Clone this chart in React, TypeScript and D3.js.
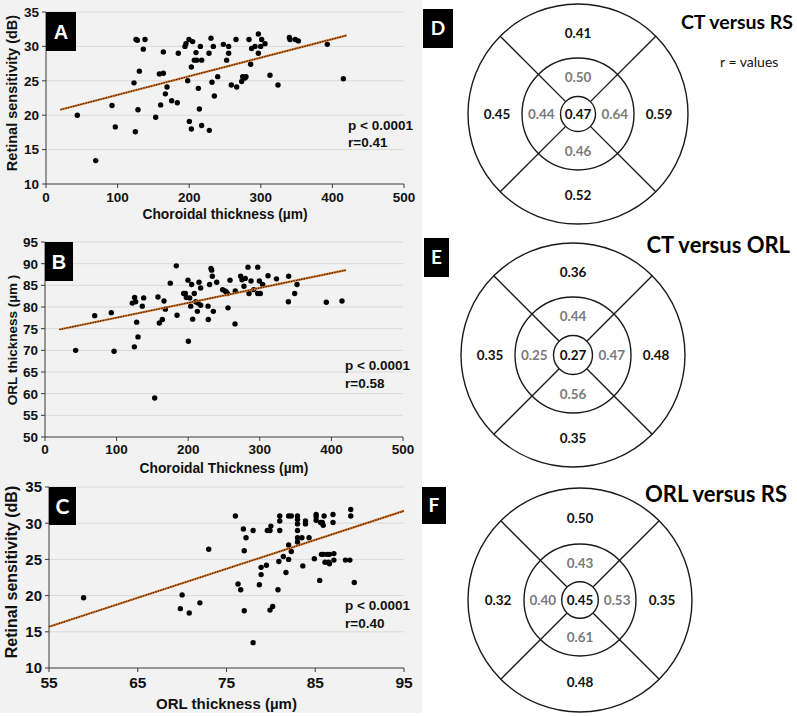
import React from "react";
import * as d3 from "d3";

// ---------- Panel A: choroidal thickness vs retinal sensitivity ----------
const ctA = [43.8,69.4,92.2,96.8,122.9,124.8,125.7,127.6,128.5,130.4,135.9,138.3,153.2,158.3,160.1,163.9,163.9,166.7,169.0,175.5,183.4,184.8,194.1,195.5,197.9,199.7,200.2,203.0,203.0,204.8,207.2,209.5,210.4,212.8,214.2,215.6,217.4,217.4,227.7,228.1,230.4,231.8,233.7,235.1,239.8,247.7,252.3,255.1,255.1,258.8,265.4,266.3,273.3,274.7,277.9,279.3,283.5,285.8,287.2,291.9,296.6,296.6,299.8,301.2,305.9,312.8,324.0,339.9,340.8,348.2,352.4,392.9,415.3];
const rsA = [20.0,13.4,21.4,18.3,24.7,17.6,31.0,30.9,20.8,26.4,29.6,31.0,19.7,26.0,21.5,26.1,29.2,23.1,24.1,22.1,21.8,29.0,30.0,30.4,25.0,31.0,19.1,27.0,18.0,30.7,28.0,29.1,28.0,23.9,20.9,30.0,28.0,18.5,29.0,17.8,31.2,24.8,30.0,22.8,25.6,30.3,28.0,29.0,30.0,24.4,31.0,24.1,24.9,25.6,25.4,25.6,31.0,27.4,29.7,30.0,31.8,29.0,30.0,31.0,30.4,25.8,24.4,31.3,31.0,31.0,30.8,30.3,25.3];
const trendAx = [20, 420];
const trendAy = [20.8, 31.6];

// ---------- Panel B: choroidal thickness vs ORL thickness ----------
const ctB = [42.8,69.4,92.6,96.4,122.0,125.2,124.8,126.6,128.0,129.9,135.9,137.8,153.2,157.8,159.7,163.9,166.2,168.1,175.0,183.4,184.4,193.7,196.0,197.4,199.7,200.2,202.1,203.5,204.8,206.2,208.5,210.4,212.8,213.7,215.1,217.4,217.4,227.7,228.1,229.9,231.8,232.8,233.7,235.1,239.8,248.1,251.4,253.3,254.7,255.6,258.4,265.4,265.8,273.3,275.1,277.9,279.7,283.5,284.9,287.7,291.5,297.1,297.1,299.4,300.8,304.0,311.5,323.3,340.3,339.9,348.7,352.0,392.9,414.8];
const orlB = [70.0,78.0,78.7,69.8,80.9,82.2,70.8,81.2,76.5,73.1,80.2,82.1,59.0,82.3,76.3,77.1,81.4,79.5,85.5,89.5,78.1,83.1,83.1,82.2,86.2,72.1,82.1,80.2,85.2,77.2,83.1,81.2,79.0,80.9,85.7,84.4,80.4,80.2,77.1,85.2,88.9,88.5,87.1,79.0,85.7,84.0,83.7,83.5,83.1,79.8,86.2,76.1,83.7,87.1,86.3,84.8,86.6,89.2,83.1,86.0,84.0,89.2,83.1,86.0,83.1,85.2,87.2,86.5,87.1,81.2,83.1,85.2,81.1,81.4];
const trendBx = [20, 420];
const trendBy = [74.8, 88.5];

// ---------- Panel C: ORL thickness vs retinal sensitivity ----------
const orlC = [58.9,69.8,70.0,70.8,72.0,73.0,76.0,76.3,76.6,76.9,77.0,77.0,77.2,78.0,78.0,78.7,78.9,78.9,79.5,79.6,80.0,79.9,79.9,80.2,80.8,80.9,81.0,81.0,81.0,81.7,81.4,82.0,82.0,82.0,82.3,82.3,83.0,83.0,83.0,83.0,83.0,83.0,83.5,83.6,83.9,83.9,84.3,84.9,85.1,85.1,85.1,85.5,85.6,85.7,85.8,85.9,86.0,85.9,86.1,86.3,86.5,86.6,86.6,87.0,87.0,87.1,87.1,88.4,88.9,89.0,89.0,89.4];
const rsC = [19.7,18.2,20.1,17.6,19.0,26.4,31.0,21.6,20.8,29.2,26.2,17.9,28.0,29.0,13.5,21.5,23.9,22.9,24.2,29.0,29.6,29.0,18.0,18.5,20.8,24.7,29.0,31.0,30.3,23.2,25.4,27.0,31.0,25.0,26.1,31.0,31.0,30.5,29.9,29.0,28.0,27.4,28.0,24.1,30.3,29.9,28.0,25.1,31.2,30.9,30.4,22.1,30.1,25.7,30.1,29.7,31.0,25.7,24.6,25.7,24.6,25.7,24.4,31.2,30.1,25.8,24.9,24.9,24.9,31.9,31.0,21.8];
const trendCx = [55, 95];
const trendCy = [15.7, 31.7];

// ---------- Tick labels ----------
const ticksCT = [0, 100, 200, 300, 400, 500];
const ticksRS = [10, 15, 20, 25, 30, 35];
const ticksORL = [50, 55, 60, 65, 70, 75, 80, 85, 90, 95];
const ticksORLx = [55, 65, 75, 85, 95];

// ---------- Sector maps (r values): [top, right, bottom, left] ----------
const outerD = [0.41, 0.59, 0.52, 0.45];
const innerD = [0.50, 0.64, 0.46, 0.44];
const centerD = 0.47;
const outerE = [0.36, 0.48, 0.35, 0.35];
const innerE = [0.44, 0.47, 0.56, 0.25];
const centerE = 0.27;
const outerF = [0.50, 0.35, 0.48, 0.32];
const innerF = [0.43, 0.53, 0.61, 0.40];
const centerF = 0.45;

const ARIAL = "'Liberation Sans', Arial, sans-serif";
const CAL = "Lato, 'Open Sans', sans-serif";

type ScatterProps = {
  left: number; right: number; top: number; bottom: number;
  xDomain: [number, number]; yDomain: [number, number];
  xTicks: number[]; yTicks: number[];
  xs: number[]; ys: number[];
  tx: number[]; ty: number[];
  letter: string; boxW: number; boxH: number; letterFont: string; letterSize: number;
  xTitle: string; yTitle: string; xTitleY: number; yTitleX: number; yTitleCy: number;
  tickSize: number; xTickSize: number; xTickDy: number; titleSize: number; yTitleSize: number;
  pText: string; rText: string; statX: number; statY1: number; statY2: number;
};

function Scatter(p: ScatterProps) {
  const x = d3.scaleLinear().domain(p.xDomain).range([p.left, p.right]);
  const y = d3.scaleLinear().domain(p.yDomain).range([p.bottom, p.top]);
  const line = d3.line<number>().x((_, i) => x(p.tx[i])).y((d) => y(d));
  const trendPath = line(p.ty) || "";
  const axisColor = "#3a3a3a";
  return (
    <g>
      {p.yTicks.filter((t) => t !== p.yDomain[0]).map((t) => (
        <line key={"g" + t} x1={p.left} x2={p.right} y1={y(t)} y2={y(t)} stroke="#d9d9d9" strokeWidth={1} />
      ))}
      <line x1={p.left} x2={p.right} y1={p.bottom} y2={p.bottom} stroke={axisColor} strokeWidth={1} />
      <line x1={p.left} x2={p.left} y1={p.top} y2={p.bottom} stroke={axisColor} strokeWidth={1} />
      {p.yTicks.map((t) => (
        <g key={"y" + t}>
          <line x1={p.left - 4} x2={p.left} y1={y(t)} y2={y(t)} stroke={axisColor} />
          <text x={p.left - 7} y={y(t)} dy="0.36em" textAnchor="end" fontFamily={ARIAL} fontWeight="bold" fontSize={p.tickSize} fill="#111">{t}</text>
        </g>
      ))}
      {p.xTicks.map((t) => (
        <g key={"x" + t}>
          <line x1={x(t)} x2={x(t)} y1={p.bottom} y2={p.bottom + 4} stroke={axisColor} />
          <text x={x(t)} y={p.bottom + p.xTickDy} textAnchor="middle" fontFamily={ARIAL} fontWeight="bold" fontSize={p.xTickSize} fill="#111">{t}</text>
        </g>
      ))}
      {p.xs.map((v, i) => (
        <circle key={"d" + i} cx={x(v)} cy={y(p.ys[i])} r={2.7} fill="#000" />
      ))}
      <path d={trendPath} stroke="#d9731f" strokeWidth={2.2} fill="none" />
      <path d={trendPath} stroke="#1a1a1a" strokeWidth={1.1} strokeDasharray="1.3 1.3" fill="none" />
      <rect x={p.left} y={p.top} width={p.boxW} height={p.boxH} fill="#000" />
      <text x={p.left + p.boxW / 2} y={p.top + p.boxH / 2} dy="0.36em" textAnchor="middle" fontFamily={p.letterFont} fontWeight="bold" fontSize={p.letterSize} fill="#fff">{p.letter}</text>
      <text x={(p.left + p.right) / 2} y={p.xTitleY} textAnchor="middle" fontFamily={ARIAL} fontWeight="bold" fontSize={p.titleSize} fill="#111">{p.xTitle}</text>
      <text transform={`translate(${p.yTitleX},${p.yTitleCy}) rotate(-90)`} textAnchor="middle" dy="0.36em" fontFamily={ARIAL} fontWeight="bold" fontSize={p.yTitleSize} fill="#111">{p.yTitle}</text>
      <text x={p.statX} y={p.statY1} fontFamily={ARIAL} fontWeight="bold" fontSize={13.5} fill="#111">{p.pText}</text>
      <text x={p.statX} y={p.statY2} fontFamily={ARIAL} fontWeight="bold" fontSize={13.5} fill="#111">{p.rText}</text>
    </g>
  );
}

type MapProps = {
  cx: number; cy: number; rO: number; rM: number; rI: number;
  outer: number[]; inner: number[]; center: number;
  letter: string; box: [number, number, number, number];
  title: string; titleX: number; titleY: number; titleSize: number; extra?: boolean;
};

function SectorMap(m: MapProps) {
  const fmt = d3.format(".2f");
  const angles = [45, 135, 225, 315].map((a) => (a * Math.PI) / 180);
  const dirs = [[0, -1], [1, 0], [0, 1], [-1, 0]];
  const oR = (m.rO + m.rM) / 2 - 2;
  const iR = (m.rM + m.rI) / 2;
  return (
    <g>
      <rect x={m.box[0]} y={m.box[1]} width={m.box[2]} height={m.box[3]} fill="#000" />
      <text x={m.box[0] + m.box[2] / 2} y={m.box[1] + m.box[3] / 2} dy="0.36em" textAnchor="middle" fontFamily={CAL} fontWeight="bold" fontSize={19} fill="#fff">{m.letter}</text>
      <circle cx={m.cx} cy={m.cy} r={m.rO} fill="none" stroke="#1a1a1a" strokeWidth={1.4} />
      <circle cx={m.cx} cy={m.cy} r={m.rM} fill="none" stroke="#1a1a1a" strokeWidth={1.4} />
      <circle cx={m.cx} cy={m.cy} r={m.rI} fill="none" stroke="#1a1a1a" strokeWidth={1.4} />
      {angles.map((a, i) => (
        <line key={i} x1={m.cx + m.rI * Math.cos(a)} y1={m.cy + m.rI * Math.sin(a)} x2={m.cx + m.rO * Math.cos(a)} y2={m.cy + m.rO * Math.sin(a)} stroke="#1a1a1a" strokeWidth={1.4} />
      ))}
      {m.outer.map((v, i) => (
        <text key={"o" + i} x={m.cx + dirs[i][0] * oR} y={m.cy + dirs[i][1] * oR} dy="0.36em" textAnchor="middle" fontFamily={CAL} fontWeight="bold" fontSize={13.5} fill="#111">{fmt(v)}</text>
      ))}
      {m.inner.map((v, i) => (
        <text key={"i" + i} x={m.cx + dirs[i][0] * iR} y={m.cy + dirs[i][1] * iR} dy="0.36em" textAnchor="middle" fontFamily={CAL} fontWeight="bold" fontSize={13.5} fill="#7a7a7a">{fmt(v)}</text>
      ))}
      <text x={m.cx} y={m.cy} dy="0.36em" textAnchor="middle" fontFamily={CAL} fontWeight="bold" fontSize={13.5} fill="#111">{fmt(m.center)}</text>
      <text x={m.titleX} y={m.titleY} textAnchor="end" fontFamily={CAL} fontWeight="bold" fontSize={m.titleSize} fill="#000">{m.title}</text>
      {m.extra ? (
        <text x={720} y={67} fontFamily={CAL} fontSize={14} fill="#111">r = values</text>
      ) : null}
    </g>
  );
}

export default function App() {
  return (
    <div style={{ position: "absolute", left: 0, top: 0 }}>
      <svg width={797} height={716} style={{ display: "block", background: "#fff" }}>
        <rect x={0} y={0} width={422} height={713} fill="#f2f2f2" />
        <Scatter left={46} right={404} top={12} bottom={184} xDomain={[0, 500]} yDomain={[10, 35]}
          xTicks={ticksCT} yTicks={ticksRS} xs={ctA} ys={rsA} tx={trendAx} ty={trendAy}
          letter="A" boxW={30} boxH={39} letterFont={ARIAL} letterSize={20}
          xTitle="Choroidal thickness (µm)" yTitle="Retinal sensitivity (dB)" xTitleY={219} yTitleX={12} yTitleCy={93}
          tickSize={13.5} xTickSize={13.5} xTickDy={17.5} titleSize={13.8} yTitleSize={14.5}
          pText="p < 0.0001" rText="r=0.41" statX={348} statY1={130} statY2={147} />
        <Scatter left={45} right={403} top={242} bottom={437} xDomain={[0, 500]} yDomain={[50, 95]}
          xTicks={ticksCT} yTicks={ticksORL} xs={ctB} ys={orlB} tx={trendBx} ty={trendBy}
          letter="B" boxW={28} boxH={39} letterFont={ARIAL} letterSize={20}
          xTitle="Choroidal Thickness (µm)" yTitle="ORL thickness (µm )" xTitleY={473} yTitleX={12} yTitleCy={340}
          tickSize={13.5} xTickSize={13.5} xTickDy={17} titleSize={13.8} yTitleSize={13.5}
          pText="p < 0.0001" rText="r=0.58" statX={345} statY1={370} statY2={388} />
        <Scatter left={49} right={404} top={487} bottom={668} xDomain={[55, 95]} yDomain={[10, 35]}
          xTicks={ticksORLx} yTicks={ticksRS} xs={orlC} ys={rsC} tx={trendCx} ty={trendCy}
          letter="C" boxW={27} boxH={38} letterFont={CAL} letterSize={21}
          xTitle="ORL thickness (µm)" yTitle="Retinal sensitivity (dB)" xTitleY={709} yTitleX={11} yTitleCy={572}
          tickSize={15} xTickSize={15.5} xTickDy={20} titleSize={15} yTitleSize={16}
          pText="p < 0.0001" rText="r=0.40" statX={345} statY1={610} statY2={628} />
        <SectorMap cx={578} cy={114} rO={110} rM={56} rI={17.5} outer={outerD} inner={innerD} center={centerD}
          letter="D" box={[423, 9, 30, 39]} title="CT versus RS" titleX={793} titleY={29} titleSize={19.5} extra={true} />
        <SectorMap cx={573} cy={355} rO={112} rM={58} rI={19.5} outer={outerE} inner={innerE} center={centerE}
          letter="E" box={[424, 238, 25, 39]} title="CT versus ORL" titleX={790} titleY={253} titleSize={22} />
        <SectorMap cx={580} cy={600} rO={112} rM={56} rI={18.3} outer={outerF} inner={innerF} center={centerF}
          letter="F" box={[422, 487, 24, 37]} title="ORL versus RS" titleX={787} titleY={502} titleSize={22} />
      </svg>
    </div>
  );
}
